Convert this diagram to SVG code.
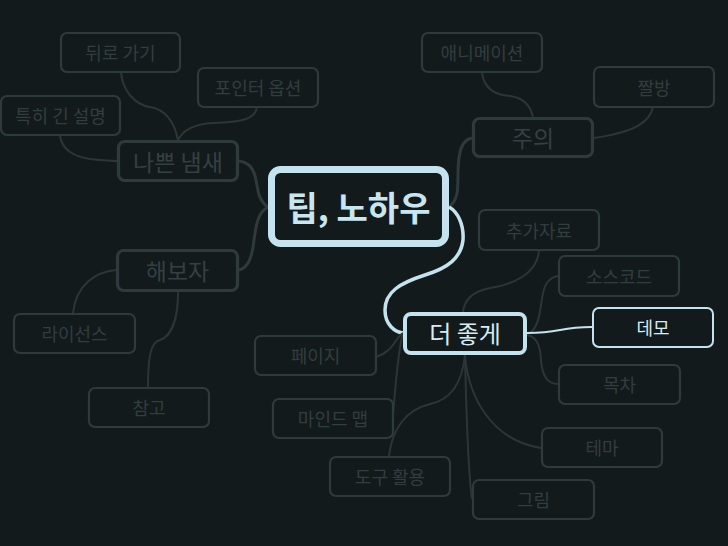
<svg xmlns="http://www.w3.org/2000/svg" width="728" height="546" viewBox="0 0 728 546">
<style>
.bg{fill:#131a1b}
.leaf rect{fill:#131a1b;stroke:#2f3a3c;stroke-width:2.2}
.leaf text{fill:#323d3f;font-size:18px}
.mid rect{fill:#131a1b;stroke:#2f3a3c;stroke-width:3.2}
.mid text{fill:#354042;font-size:23px}
text{font-family:"Noto Sans CJK KR","Noto Sans",sans-serif;text-anchor:middle;dominant-baseline:central}
.c{fill:none;stroke:#2c3638;stroke-width:2}
.c3{fill:none;stroke:#2f3a3c;stroke-width:3}
.hb{fill:none;stroke:#c5e3ef;stroke-width:3.5}
.ht{fill:none;stroke:#c5e3ef;stroke-width:2}
</style>
<rect class="bg" x="0" y="0" width="728" height="546"/>
<g id="connectors">
<path class="c3" d="M268,207 C258,200 258,190 256,180 C254,168 248,162 239,161"/>
<path class="c3" d="M268,207 C258,212 256,225 254,240 C252,258 248,268 239,270"/>
<path class="c3" d="M449,207 C458,200 458,190 458,175 C458,150 462,140 472,138"/>
<path class="hb" d="M449,207 C458,212 464,225 463,240 C461,258 448,268 425,275 C400,283 385,292 385,310 C385,325 395,332 403,333"/>
<path class="c" d="M121,72 C122,90 135,105 150,107 C168,110 175,125 178,140"/>
<path class="c" d="M257,107 C255,120 240,122 213,123 C195,124 183,130 178,140"/>
<path class="c" d="M60,136 C62,150 75,157 90,159 C100,160 110,161 117,161"/>
<path class="c" d="M73,313 C76,285 95,272 116,270"/>
<path class="c" d="M148,387 C148,360 150,342 160,340 C175,335 178,310 178,292"/>
<path class="c" d="M482,73 C484,88 495,95 510,96 C525,98 531,108 533,117"/>
<path class="c" d="M653,107 C650,122 635,132 594,138"/>
<path class="c" d="M539,250 C538,275 510,285 490,288 C470,292 464,302 463,312"/>
<path class="c" d="M558,276 C545,278 543,290 541,305 C539,322 535,332 527,334"/>
<path class="ht" d="M527,333 C540,333 550,332 560,330 C570,328 575,327 592,327"/>
<path class="c" d="M527,335 C537,337 540,345 541,360 C542,376 548,384 558,384"/>
<path class="c" d="M465,355 C468,395 490,440 541,448"/>
<path class="c" d="M465,355 C466,400 468,470 472,499"/>
<path class="c" d="M465,355 C462,385 450,400 430,404 C405,410 392,430 389,456"/>
<path class="c" d="M403,333 C398,350 396,380 393,415"/>
<path class="c" d="M403,333 C395,338 393,352 376,357"/>
</g>
<g id="n-center"><rect x="271.5" y="169.5" width="174" height="74" rx="9" fill="#131a1b" stroke="#c5e3ef" stroke-width="7"/><text x="358.5" y="206" font-size="34" font-weight="bold" fill="#c8e6f0">팁, 노하우</text></g>
<g id="n-bad" class="mid"><rect x="118.5" y="141.5" width="119" height="39" rx="6"/><text x="178" y="161">나쁜 냄새</text></g>
<g id="n-try" class="mid"><rect x="117.5" y="250.5" width="120" height="40" rx="6"/><text x="177.5" y="270">해보자</text></g>
<g id="n-note" class="mid"><rect x="473.5" y="118.5" width="119" height="38" rx="6"/><text x="533" y="137">주의</text></g>
<g id="n-better"><rect x="405" y="314" width="120" height="39" rx="6" fill="#131a1b" stroke="#c5e3ef" stroke-width="4"/><text x="465" y="332" font-size="24" fill="#d6ebf2">더 좋게</text></g>
<g id="n-back" class="leaf"><rect x="61" y="33" width="119" height="39" rx="6"/><text x="120.5" y="52">뒤로 가기</text></g>
<g id="n-pointer" class="leaf"><rect x="198" y="68" width="120" height="39" rx="6"/><text x="258" y="87">포인터 옵션</text></g>
<g id="n-long" class="leaf"><rect x="1" y="96" width="119" height="39" rx="6"/><text x="60.5" y="115">특히 긴 설명</text></g>
<g id="n-license" class="leaf"><rect x="14" y="314" width="121" height="39" rx="6"/><text x="74.5" y="333">라이선스</text></g>
<g id="n-ref" class="leaf"><rect x="89" y="388" width="120" height="39" rx="6"/><text x="149" y="407">참고</text></g>
<g id="n-anim" class="leaf"><rect x="422" y="33" width="120" height="39" rx="6"/><text x="482" y="52">애니메이션</text></g>
<g id="n-meme" class="leaf"><rect x="594" y="67" width="120" height="40" rx="6"/><text x="654" y="87">짤방</text></g>
<g id="n-extra" class="leaf"><rect x="479" y="210" width="120" height="40" rx="6"/><text x="539" y="230">추가자료</text></g>
<g id="n-source" class="leaf"><rect x="559" y="256" width="120" height="40" rx="6"/><text x="619" y="276">소스코드</text></g>
<g id="n-demo"><rect x="593" y="308" width="120" height="39" rx="6" fill="#131a1b" stroke="#c5e3ef" stroke-width="2"/><text x="653" y="327" font-size="18" fill="#d6ebf2">데모</text></g>
<g id="n-toc" class="leaf"><rect x="559" y="365" width="121" height="39" rx="6"/><text x="619.5" y="384">목차</text></g>
<g id="n-theme" class="leaf"><rect x="542" y="428" width="120" height="39" rx="6"/><text x="602" y="447">테마</text></g>
<g id="n-picture" class="leaf"><rect x="473" y="480" width="121" height="39" rx="6"/><text x="533.5" y="499">그림</text></g>
<g id="n-page" class="leaf"><rect x="255" y="336" width="121" height="39" rx="6"/><text x="315.5" y="355">페이지</text></g>
<g id="n-mindmap" class="leaf"><rect x="273" y="399" width="120" height="39" rx="6"/><text x="333" y="418">마인드 맵</text></g>
<g id="n-tools" class="leaf"><rect x="330" y="457" width="120" height="39" rx="6"/><text x="390" y="476">도구 활용</text></g>
</svg>
